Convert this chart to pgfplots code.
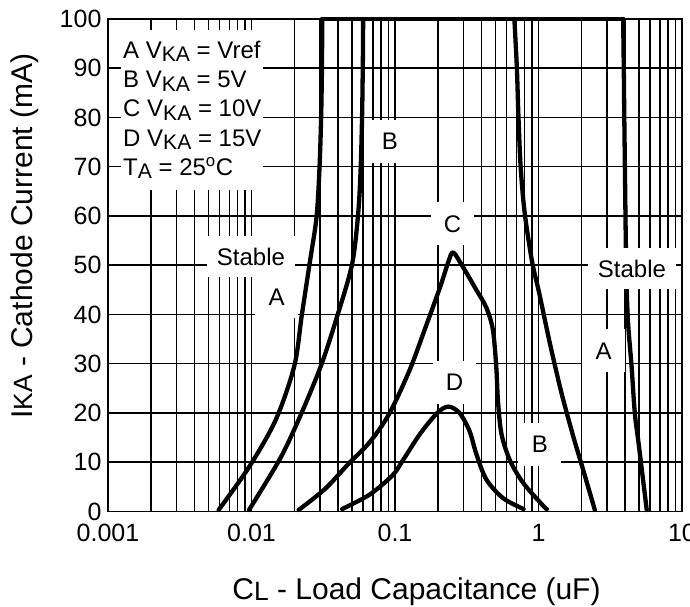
\documentclass[border=0pt]{standalone}
\usepackage{fontspec}
\setmainfont{Liberation Sans}
\usepackage{graphicx}
\usepackage{pgfplots}
\pgfplotsset{compat=1.18}
\tikzset{lab/.style={fill=white, font=\fontsize{24}{29}\selectfont, minimum width=43pt, minimum height=43pt, inner sep=0pt}}
\newcommand\sub[2][-0.14em]{\raisebox{#1}{\scalebox{0.88}{#2}}}
\begin{document}
\begin{tikzpicture}
\begin{axis}[
 scale only axis, width=574pt, height=492.5pt,
 xmode=log, log basis x=10,
 xmin=0.001, xmax=10, ymin=0, ymax=100,
 xtick={0.001,0.01,0.1,1,10},
 xticklabels={0.001,0.01,0.1,1,10},
 minor xtick={0.002,0.003,0.004,0.005,0.006,0.007,0.008,0.009,
   0.02,0.03,0.04,0.05,0.06,0.07,0.08,0.09,
   0.2,0.3,0.4,0.5,0.6,0.7,0.8,0.9,
   2,3,4,5,6,7,8,9},
 ytick={0,10,...,100},
 grid=both,
 major grid style={black, line width=1.5pt},
 minor grid style={black, line width=1.5pt},
 major tick length=0pt, minor tick length=0pt,
 axis line style={line width=1.7pt},
 tick label style={font=\fontsize{25}{30}\selectfont},
 /pgf/number format/assume math mode=true,
 yticklabel style={xshift=-3pt},
 xticklabel style={yshift=-9pt},
 xlabel={C\sub[-0.06em]{L} - Load Capacitance (uF)},
 ylabel={I\sub[0pt]{KA} - Cathode Current (mA)},
 label style={font=\fontsize{30}{36}\selectfont},
 xlabel style={at={(axis description cs:0.5375,-0.1777)},anchor=base},
 ylabel style={at={(axis description cs:-0.1307,0.559)},anchor=base},
 clip=false,
]
\pgfplotsset{every axis plot/.append style={black, line width=4.3pt, line cap=round, line join=round, no markers}}
% A left
\addplot[smooth] coordinates {(0.0059,0.3) (0.0097,9.2) (0.0148,18.7) (0.0199,29.6) (0.0224,39.8) (0.0254,50.3) (0.0284,59.8) (0.0298,70) (0.0306,80.6) (0.0310,91.3) (0.0311,100)};
% top line
\addplot[sharp plot] coordinates {(0.0311,100) (3.89,100)};
% A right
\addplot[smooth] coordinates {(3.89,100) (3.93,90) (3.96,80.6) (4.0,70) (4.06,54.5) (4.11,45.7) (4.22,37.8) (4.45,29.6) (4.69,20) (5.01,13.3) (5.68,0.3)};
% B left
\addplot[smooth] coordinates {(0.0096,0.3) (0.0158,10.7) (0.0218,19.3) (0.0305,29.6) (0.0397,39.8) (0.0503,50.3) (0.0555,60.8) (0.0577,70) (0.0590,80.6) (0.0597,91.3) (0.0600,100)};
% B right
\addplot[smooth] coordinates {(0.679,100) (0.707,90) (0.724,80.6) (0.751,70) (0.80,60.8) (0.90,50.9) (1.016,44.1) (1.195,34.4) (1.445,24.1) (1.745,15.3) (2.05,8.4) (2.47,0.3)};
% C
\addplot[smooth] coordinates {(0.0213,0.3) (0.0326,4.6) (0.0478,9.8) (0.0663,14) (0.0906,19.7) (0.126,28.6) (0.1666,38.1) (0.207,45.7) (0.2355,50.7) (0.2544,52.6) (0.2968,49.7) (0.3687,45) (0.433,41.4) (0.481,36.9) (0.508,29.3) (0.522,22.4) (0.5525,15.7) (0.634,10.3) (0.787,5.7) (1.083,1.1) (1.144,0.5)};
% D
\addplot[smooth] coordinates {(0.0428,0.5) (0.0663,3.4) (0.0958,7.3) (0.113,10.3) (0.149,15.7) (0.197,20) (0.2355,21.3) (0.282,20) (0.331,16.3) (0.3687,11.7) (0.433,6.5) (0.567,2.7) (0.787,0.5)};

\node[fill=white, align=left, anchor=north west, inner xsep=2pt, inner ysep=11pt, font=\fontsize{24}{29.3}\selectfont] at (axis cs:0.001232,97.8)
 {A V\sub{KA} = Vref\\B V\sub{KA} = 5V\\C V\sub{KA} = 10V\\D V\sub{KA} = 15V\\T\sub{A} = 25\textsuperscript{o}C};
\node[lab, inner xsep=10pt, minimum height=41pt] at (axis cs:0.00992,51.7) {Stable};
\node[lab] at (axis cs:0.01498,43.6) {A};
\node[lab] at (axis cs:0.0923,75.1) {B};
\node[lab] at (axis cs:0.2516,58.4) {C};
\node[lab, inner xsep=10pt, minimum height=41pt] at (axis cs:4.483,49.3) {Stable};
\node[lab] at (axis cs:2.838,32.6) {A};
\node[lab] at (axis cs:0.2598,26.2) {D};
\node[lab] at (axis cs:1.024,13.6) {B};
\end{axis}
\pgfresetboundingbox
\path (-108pt,-95.5pt) rectangle (582pt,511.5pt);
\end{tikzpicture}
\end{document}
